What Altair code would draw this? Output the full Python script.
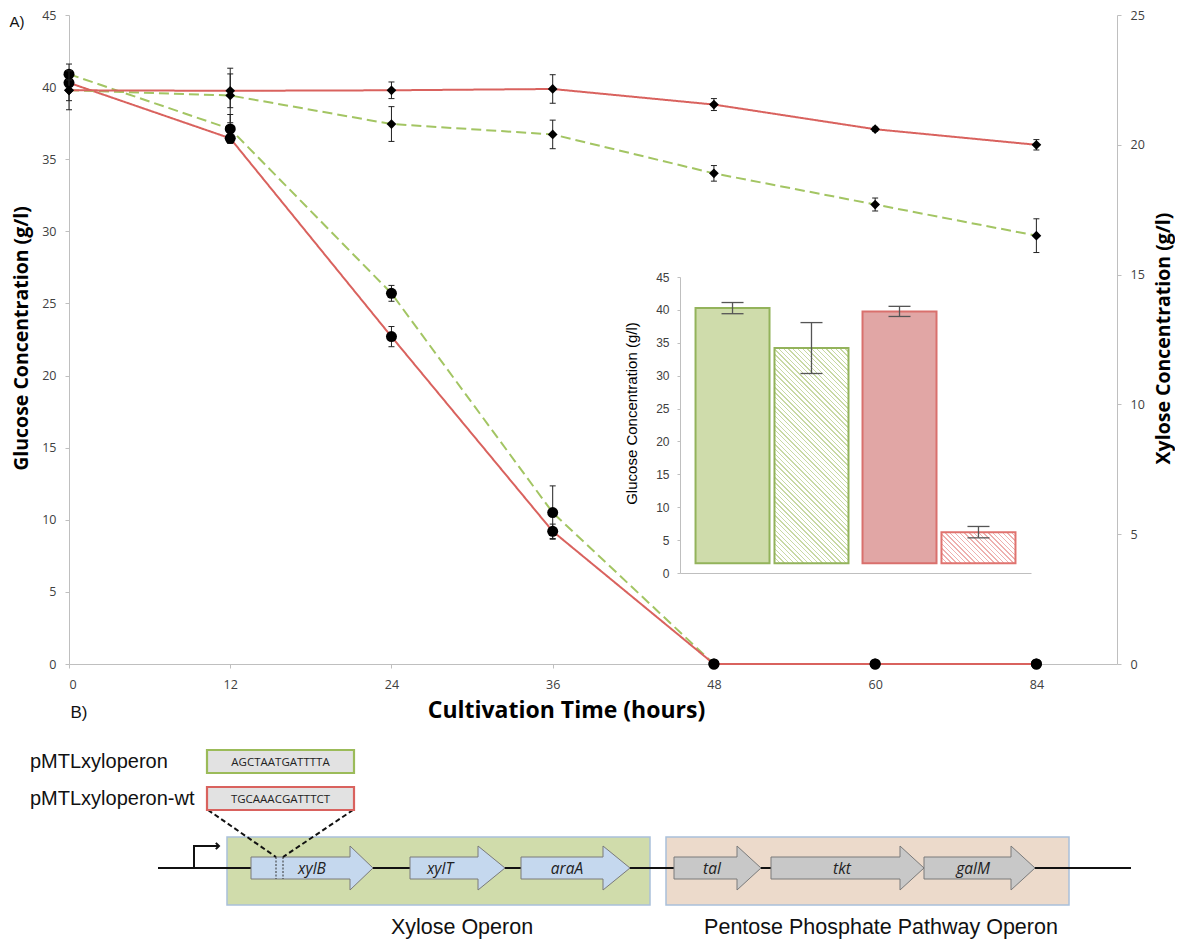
import altair as alt
import pandas as pd

# ------------------------------------------------------------------
# Panel A data
# ------------------------------------------------------------------
hours = [0, 12, 24, 36, 48, 60, 84]
strains = ["pMTLxyloperon", "pMTLxyloperon-wt"]

glucose_xyloperon = [40.9, 37.1, 25.7, 10.5, 0, 0, 0]
glucose_xyloperon_err = [0.7, 1.0, 0.55, 1.85, 0, 0, 0]
glucose_wt = [40.3, 36.45, 22.7, 9.2, 0, 0, 0]
glucose_wt_err = [0.5, 0.35, 0.7, 0.5, 0, 0, 0]

xylose_xyloperon = [22.1, 21.9, 20.8, 20.4, 18.9, 17.7, 16.5]
xylose_xyloperon_err = [0.75, 1.05, 0.67, 0.55, 0.3, 0.25, 0.65]
xylose_wt = [22.1, 22.08, 22.1, 22.15, 21.55, 20.6, 20.0]
xylose_wt_err = [0.4, 0.65, 0.32, 0.55, 0.23, 0.08, 0.2]

# inset (glucose on left axis, xylose on right axis)
inset_glucose = [40.27, 39.77]
inset_glucose_err = [0.85, 0.77]
inset_xylose = [3.80, 0.69]
inset_xylose_err = [0.43, 0.096]
inset_base_glucose = 1.5          # bars start slightly above zero
inset_base_xylose = inset_base_glucose / 9.0

# ------------------------------------------------------------------
# Panel B (operon map) data, in figure map units
# ------------------------------------------------------------------
gene_names = ["xylB", "xylT", "araA", "tal", "tkt", "galM"]
gene_start = [251, 410, 521, 674, 771, 924]
gene_head = [350, 478, 603, 737, 900, 1011]
gene_end = [373, 505, 630, 761, 924, 1035]
gene_label_x = [312, 440, 567, 712, 842, 973]
gene_fill = ["#c5d8ee"] * 3 + ["#c8c8c8"] * 3
gene_stroke = ["#7a7a7a"] * 6
gene_axis_y = 868
gene_body_half = 11
gene_head_half = 22

operon_names = ["Xylose Operon", "Pentose Phosphate Pathway Operon"]
operon_x1 = [227, 666]
operon_x2 = [650, 1069]
operon_y1 = [837, 837]
operon_y2 = [905, 905]
operon_fill = ["#d0dcab", "#ecdacb"]
operon_label_x = [462, 881]
operon_label_y = [928, 928]

seq_names = ["pMTLxyloperon", "pMTLxyloperon-wt"]
seq_text = ["AGCTAATGATTTTA", "TGCAAACGATTTCT"]
seq_x1 = [207, 207]
seq_x2 = [354, 354]
seq_y1 = [750, 787]
seq_y2 = [773, 810]
seq_stroke = ["#9bbb59", "#d9625e"]
seq_label_x = 30

backbone_x = [158, 1131]
promoter_x = [194, 194, 219]
promoter_y = [868, 846, 846]
zoom_from_x = [208, 353]
zoom_from_y = [810, 810]
zoom_to_x = [276, 283]
zoom_to_y = [857, 857]
site_y = [857, 879]

# ------------------------------------------------------------------
# styling
# ------------------------------------------------------------------
GREEN = "#a3c563"
RED = "#d9625e"
ERR = "#222222"
AXC = "#bfbfbf"
LBL = "#404040"
W, H = 1048, 649
TOP = 7

label_expr = "[" + ",".join("'%d'" % h for h in hours) + "][datum.value]"


def series_df(vals_list, errs_list):
    rows = []
    for s, vals, errs in zip(strains, vals_list, errs_list):
        for i, (h, v, e) in enumerate(zip(hours, vals, errs)):
            rows.append(dict(idx=i, hour=h, strain=s, value=v, err=e,
                             lo=v - e, hi=v + e))
    return pd.DataFrame(rows)


glc_df = series_df([glucose_xyloperon, glucose_wt],
                   [glucose_xyloperon_err, glucose_wt_err])
xyl_df = series_df([xylose_xyloperon, xylose_wt],
                   [xylose_xyloperon_err, xylose_wt_err])

color_scale = alt.Scale(domain=strains, range=[GREEN, RED])
dash_scale = alt.Scale(domain=strains, range=[[10, 5], [1, 0]])
main_x_scale = alt.Scale(domain=[0, 6.5], nice=False, zero=False)

x_axis_main = alt.Axis(
    values=list(range(len(hours))), labelExpr=label_expr, grid=False,
    domainColor=AXC, tickColor=AXC, tickSize=4, labelPadding=10,
    labelFont="Open Sans", labelFontSize=12.5, labelColor=LBL,
    title="Cultivation Time (hours)", titleFont="Open Sans",
    titleFontSize=23, titleFontWeight="bold", titleColor="black",
    titleX=497, titleY=46, titleAlign="center", titleBaseline="middle")

y_axis_glc = alt.Axis(
    orient="left", values=list(range(0, 46, 5)), grid=False,
    domainColor=AXC, tickColor=AXC, tickSize=4, labelPadding=9,
    labelFont="Open Sans", labelFontSize=12.5, labelColor=LBL,
    title="Glucose Concentration (g/l)", titleFont="Open Sans",
    titleFontSize=19.5, titleFontWeight="bold", titleColor="black",
    titleAngle=270, titleX=-48, titleY=323, titleAlign="center",
    titleBaseline="middle")

y_axis_xyl = alt.Axis(
    orient="right", values=list(range(0, 26, 5)), grid=False,
    domainColor=AXC, tickColor=AXC, tickSize=4, labelPadding=9,
    labelFont="Open Sans", labelFontSize=12.5, labelColor=LBL,
    title="Xylose Concentration (g/l)", titleFont="Open Sans",
    titleFontSize=19.5, titleFontWeight="bold", titleColor="black",
    titleAngle=270, titleX=46, titleY=323, titleAlign="center",
    titleBaseline="middle")


def main_layer(df, ymax, yaxis, xaxis, shape, psize):
    base = alt.Chart(df)
    x = alt.X("idx:Q", scale=main_x_scale, axis=xaxis)
    yscale = alt.Scale(domain=[0, ymax], nice=False, zero=True)
    lines = base.mark_line(strokeWidth=2).encode(
        x=x, y=alt.Y("value:Q", scale=yscale, axis=yaxis),
        color=alt.Color("strain:N", scale=color_scale, legend=None),
        strokeDash=alt.StrokeDash("strain:N", scale=dash_scale, legend=None),
        order="idx:Q")
    eb = base.transform_filter("datum.err > 0")
    rules = eb.mark_rule(color=ERR, strokeWidth=1).encode(
        x=x, y=alt.Y("lo:Q", scale=yscale), y2="hi:Q")
    cap_lo = eb.mark_point(shape="M-1,0L1,0", filled=False, size=36,
                           color=ERR, strokeWidth=1, opacity=1).encode(
        x=x, y=alt.Y("lo:Q", scale=yscale))
    cap_hi = eb.mark_point(shape="M-1,0L1,0", filled=False, size=36,
                           color=ERR, strokeWidth=1, opacity=1).encode(
        x=x, y=alt.Y("hi:Q", scale=yscale))
    pts = base.mark_point(shape=shape, filled=True, size=psize,
                          color="black", opacity=1).encode(
        x=x, y=alt.Y("value:Q", scale=yscale))
    return alt.layer(lines, rules, cap_lo, cap_hi, pts)


main_glc = main_layer(glc_df, 45, y_axis_glc, x_axis_main, "circle", 121)
main_xyl = main_layer(xyl_df, 25, y_axis_xyl, None, "diamond", 95)

# ------------------------------------------------------------------
# inset bar chart
# ------------------------------------------------------------------
INSET_X_RANGE = [611, 962]
INSET_Y_RANGE = [558, 262]
PI_C, PO_C, PI_K = 0.084, 0.093, 0.063
kinds = ["solid", "hatched"]

inset_x_scale = alt.Scale(domain=strains, range=INSET_X_RANGE,
                          paddingInner=PI_C, paddingOuter=PO_C)
inset_off_scale = alt.Scale(domain=kinds, paddingInner=PI_K, paddingOuter=0)

fill_solid = alt.Scale(domain=strains, range=["#cfdcab", "#e1a6a5"])
stroke_solid = alt.Scale(domain=strains, range=["#93b35b", "#d9706d"])

inset_glc_df = pd.DataFrame({
    "strain": strains, "kind": "solid", "value": inset_glucose,
    "err": inset_glucose_err, "base": inset_base_glucose})
inset_glc_df["lo"] = inset_glc_df["value"] - inset_glc_df["err"]
inset_glc_df["hi"] = inset_glc_df["value"] + inset_glc_df["err"]

inset_xyl_df = pd.DataFrame({
    "strain": strains, "kind": "hatched", "value": inset_xylose,
    "err": inset_xylose_err, "base": inset_base_xylose})
inset_xyl_df["lo"] = inset_xyl_df["value"] - inset_xyl_df["err"]
inset_xyl_df["hi"] = inset_xyl_df["value"] + inset_xyl_df["err"]

inset_x_axis = alt.Axis(orient="bottom", offset=-(H - INSET_Y_RANGE[0]),
                        labels=False, ticks=False, domainColor=AXC,
                        title=None, grid=False)

inset_left_axis = alt.Axis(
    orient="left", offset=-INSET_X_RANGE[0], values=list(range(0, 46, 5)),
    grid=False, domainColor=AXC, tickColor=AXC, tickSize=3, labelPadding=8,
    labelFont="Liberation Sans", labelFontSize=12, labelColor=LBL,
    title="Glucose Concentration (g/l)", titleFont="Liberation Sans",
    titleFontSize=15, titleFontWeight="normal", titleColor="black",
    titleAngle=270, titleX=-49, titleY=398, titleAlign="center",
    titleBaseline="middle")

inset_right_axis = alt.Axis(
    orient="right", offset=-(W - INSET_X_RANGE[1]),
    values=[v / 2 for v in range(0, 11)], format="~g",
    grid=False, domainColor=AXC, tickColor=AXC, tickSize=3, labelPadding=8,
    labelFont="Liberation Sans", labelFontSize=12, labelColor=LBL,
    title="Xylose Concentration (g/l)", titleFont="Liberation Sans",
    titleFontSize=15, titleFontWeight="normal", titleColor="black",
    titleAngle=270, titleX=59, titleY=385, titleAlign="center",
    titleBaseline="middle")

ERR2 = "#555555"


def inset_errors(base, x, xo, ys):
    rules = base.mark_rule(color=ERR2, strokeWidth=1.3).encode(
        x=x, xOffset=xo, y=alt.Y("lo:Q", scale=ys), y2="hi:Q")
    c1 = base.mark_point(shape="M-1,0L1,0", filled=False, size=484,
                         color=ERR2, strokeWidth=1.3, opacity=1).encode(
        x=x, xOffset=xo, y=alt.Y("lo:Q", scale=ys))
    c2 = base.mark_point(shape="M-1,0L1,0", filled=False, size=484,
                         color=ERR2, strokeWidth=1.3, opacity=1).encode(
        x=x, xOffset=xo, y=alt.Y("hi:Q", scale=ys))
    return [rules, c1, c2]


ig = alt.Chart(inset_glc_df)
ig_x = alt.X("strain:N", scale=inset_x_scale, axis=inset_x_axis)
ig_xo = alt.XOffset("kind:N", scale=inset_off_scale)
ig_ys = alt.Scale(domain=[0, 45], range=INSET_Y_RANGE, nice=False)
ig_bars = ig.mark_bar(strokeWidth=2).encode(
    x=ig_x, xOffset=ig_xo,
    y=alt.Y("value:Q", scale=ig_ys, axis=inset_left_axis), y2="base:Q",
    color=alt.Color("strain:N", scale=fill_solid, legend=None),
    stroke=alt.Stroke("strain:N", scale=stroke_solid, legend=None))
inset_glc = alt.layer(ig_bars, *inset_errors(ig, ig_x, ig_xo, ig_ys))

# geometry of hatched bars (used only to build the diagonal hatch fill)
c_step = (INSET_X_RANGE[1] - INSET_X_RANGE[0]) / (2 - PI_C + 2 * PO_C)
c_bw = c_step * (1 - PI_C)
k_step = c_bw / (2 - PI_K)
bar_w = k_step * (1 - PI_K)
px_per_xyl = (INSET_Y_RANGE[0] - INSET_Y_RANGE[1]) / 5.0


def hatch(color, w, h, period=3.4, line=1.0):
    r = h / w
    k = (1 + r) / (1 + r * r)
    extent = (w + h) / 2 ** 0.5
    n = int(extent / period) + 1
    a = line / extent
    stops = []
    for i in range(n):
        t = i / n
        t2 = min(t + a, 1.0)
        t3 = min((i + 1) / n, 1.0)
        stops += [{"offset": t, "color": color},
                  {"offset": t2, "color": color},
                  {"offset": t2, "color": "#ffffff"},
                  {"offset": t3, "color": "#ffffff"}]
    return {"gradient": "linear", "x1": 0, "y1": 1, "x2": k,
            "y2": 1 - k * r, "stops": stops}


ix = alt.Chart(inset_xyl_df)
ix_x = alt.X("strain:N", scale=inset_x_scale, axis=None)
ix_xo = alt.XOffset("kind:N", scale=inset_off_scale)
ix_ys = alt.Scale(domain=[0, 5], range=INSET_Y_RANGE, nice=False)
hatch_cols = ["#c8d9a4", "#eeb1af"]
hatch_strokes = ["#93b35b", "#e0736f"]
hatched_layers = []
for i, s in enumerate(strains):
    hgt = (inset_xylose[i] - inset_base_xylose) * px_per_xyl
    hatched_layers.append(
        ix.transform_filter(alt.datum.strain == s).mark_bar(
            fill=hatch(hatch_cols[i], bar_w, hgt),
            stroke=hatch_strokes[i], strokeWidth=2).encode(
            x=ix_x, xOffset=ix_xo,
            y=alt.Y("value:Q", scale=ix_ys,
                    axis=inset_right_axis if i == 0 else None),
            y2="base:Q"))
inset_xyl = alt.layer(*hatched_layers, *inset_errors(ix, ix_x, ix_xo, ix_ys))

# ------------------------------------------------------------------
# operon map (panel B), map units -> page via linear scales
# ------------------------------------------------------------------
dx = alt.Scale(domain=[0, 1183], range=[-69, 1114], nice=False, zero=False)
dy = alt.Scale(domain=[0, 947], range=[-(8 + TOP), 947 - (8 + TOP)],
               nice=False, zero=False)

rect_df = pd.DataFrame({
    "x1": operon_x1 + seq_x1, "x2": operon_x2 + seq_x2,
    "y1": operon_y1 + seq_y1, "y2": operon_y2 + seq_y2,
    "fill": operon_fill + ["#e2e2e2", "#e2e2e2"],
    "stroke": ["#a9c0da", "#a9c0da"] + seq_stroke,
    "sw": [1.5, 1.5, 2.2, 2.2]})
op_rects = alt.Chart(rect_df.iloc[:2]).mark_rect().encode(
    x=alt.X("x1:Q", scale=dx, axis=None), x2="x2:Q",
    y=alt.Y("y1:Q", scale=dy, axis=None), y2="y2:Q",
    color=alt.Color("fill:N", scale=None),
    stroke=alt.Stroke("stroke:N", scale=None),
    strokeWidth=alt.StrokeWidth("sw:Q", scale=None))
seq_rects = alt.Chart(rect_df.iloc[2:]).mark_rect().encode(
    x=alt.X("x1:Q", scale=dx, axis=None), x2="x2:Q",
    y=alt.Y("y1:Q", scale=dy, axis=None), y2="y2:Q",
    color=alt.Color("fill:N", scale=None),
    stroke=alt.Stroke("stroke:N", scale=None),
    strokeWidth=alt.StrokeWidth("sw:Q", scale=None))

backbone_df = pd.DataFrame({"x1": [backbone_x[0]], "x2": [backbone_x[1]],
                            "y": [gene_axis_y]})
backbone = alt.Chart(backbone_df).mark_rule(color="#111111", strokeWidth=2).encode(
    x=alt.X("x1:Q", scale=dx, axis=None), x2="x2:Q",
    y=alt.Y("y:Q", scale=dy, axis=None))

arrow_rows = []
for n, s, hd, e, f, st in zip(gene_names, gene_start, gene_head, gene_end,
                              gene_fill, gene_stroke):
    cy = gene_axis_y
    pts = [(s, cy - gene_body_half, cy + gene_body_half),
           (hd, cy - gene_body_half, cy + gene_body_half),
           (hd, cy - gene_head_half, cy + gene_head_half),
           (e, cy, cy)]
    for px, t, b in pts:
        arrow_rows.append(dict(gene=n, x=px, top=t, bot=b,
                               fill=f, stroke=st))
arrow_df = pd.DataFrame(arrow_rows)
arrows = alt.Chart(arrow_df).mark_area(strokeWidth=1, opacity=1,
                                       interpolate="linear").encode(
    x=alt.X("x:Q", scale=dx, axis=None),
    y=alt.Y("top:Q", scale=dy, axis=None), y2="bot:Q",
    detail="gene:N",
    color=alt.Color("fill:N", scale=None),
    stroke=alt.Stroke("stroke:N", scale=None))

site_df = pd.DataFrame({"x": zoom_to_x, "y1": [site_y[0]] * 2,
                        "y2": [site_y[1]] * 2})
sites = alt.Chart(site_df).mark_rule(color="#333333", strokeWidth=1,
                                     strokeDash=[2, 1.5]).encode(
    x=alt.X("x:Q", scale=dx, axis=None),
    y=alt.Y("y1:Q", scale=dy, axis=None), y2="y2:Q")

gene_lbl_df = pd.DataFrame({"x": gene_label_x, "y": [gene_axis_y + 1] * 6,
                            "t": gene_names})
gene_lbls = alt.Chart(gene_lbl_df).mark_text(
    font="Open Sans", fontSize=15.5, fontStyle="italic", color="#222222",
    baseline="middle", align="center").encode(
    x=alt.X("x:Q", scale=dx, axis=None),
    y=alt.Y("y:Q", scale=dy, axis=None), text="t:N")

prom_df = pd.DataFrame({"x": promoter_x, "y": promoter_y,
                        "ord": list(range(len(promoter_x)))})
promoter = alt.Chart(prom_df).mark_line(color="#111111", strokeWidth=2).encode(
    x=alt.X("x:Q", scale=dx, axis=None),
    y=alt.Y("y:Q", scale=dy, axis=None), order="ord:Q")
prom_head = alt.Chart(prom_df.iloc[[-1]]).mark_point(
    shape="M-1,-1L0,0L-1,1", filled=False, size=40, color="#111111",
    strokeWidth=2, opacity=1).encode(
    x=alt.X("x:Q", scale=dx, axis=None),
    y=alt.Y("y:Q", scale=dy, axis=None))

zoom_rows = []
for i in range(2):
    zoom_rows.append(dict(seg=i, ord=0, x=zoom_from_x[i], y=zoom_from_y[i]))
    zoom_rows.append(dict(seg=i, ord=1, x=zoom_to_x[i], y=zoom_to_y[i]))
zoom_df = pd.DataFrame(zoom_rows)
zoom_lines = alt.Chart(zoom_df).mark_line(color="#111111", strokeWidth=2,
                                          strokeDash=[5, 3]).encode(
    x=alt.X("x:Q", scale=dx, axis=None),
    y=alt.Y("y:Q", scale=dy, axis=None), detail="seg:N", order="ord:Q")

seq_df = pd.DataFrame({"x": [(a + b) / 2 for a, b in zip(seq_x1, seq_x2)],
                       "y": [(a + b) / 2 + 1 for a, b in zip(seq_y1, seq_y2)],
                       "t": seq_text})
seq_lbls = alt.Chart(seq_df).mark_text(
    font="Open Sans", fontSize=11.5, color="#222222", baseline="middle",
    align="center").encode(
    x=alt.X("x:Q", scale=dx, axis=None),
    y=alt.Y("y:Q", scale=dy, axis=None), text="t:N")

name_df = pd.DataFrame({"x": [seq_label_x] * 2,
                        "y": [(a + b) / 2 for a, b in zip(seq_y1, seq_y2)],
                        "t": seq_names})
name_lbls = alt.Chart(name_df).mark_text(
    font="Liberation Sans", fontSize=20, color="#111111", baseline="middle",
    align="left").encode(
    x=alt.X("x:Q", scale=dx, axis=None),
    y=alt.Y("y:Q", scale=dy, axis=None), text="t:N")

big_df = pd.DataFrame({
    "x": [17, 79] + operon_label_x,
    "y": [22, 713] + operon_label_y,
    "t": ["A)", "B)"] + operon_names,
    "fs": [15, 17, 21.5, 21.5]})
big_lbls = alt.Chart(big_df).mark_text(
    font="Liberation Sans", color="#111111", baseline="middle",
    align="center").encode(
    x=alt.X("x:Q", scale=dx, axis=None),
    y=alt.Y("y:Q", scale=dy, axis=None), text="t:N",
    size=alt.Size("fs:Q", scale=None))

diagram = alt.layer(op_rects, backbone, arrows, sites, gene_lbls, promoter,
                    prom_head, zoom_lines, seq_rects, seq_lbls, name_lbls,
                    big_lbls)

chart = alt.layer(main_glc, main_xyl, inset_glc, inset_xyl, diagram).resolve_scale(
    x="independent", y="independent", color="independent",
    stroke="independent", strokeDash="independent", xOffset="independent",
    size="independent", strokeWidth="independent"
).resolve_axis(x="independent", y="independent").properties(
    width=W, height=H,
    autosize=alt.AutoSizeParams(type="none"),
    padding={"left": 61, "top": TOP, "right": 58, "bottom": 931 - TOP - H}
).configure_view(stroke=None).configure_axis(grid=False)

chart.save("out.html", embed_options={"renderer": "svg", "actions": False})
